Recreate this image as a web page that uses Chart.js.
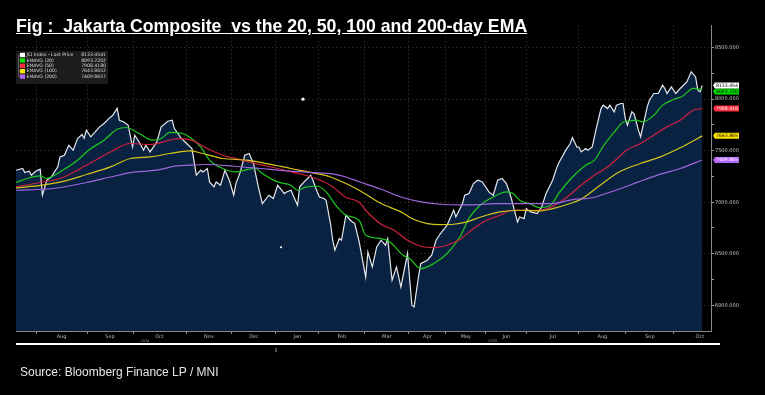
<!DOCTYPE html>
<html>
<head>
<meta charset="utf-8">
<script src="https://cdn.jsdelivr.net/npm/chart.js@4.4.1/dist/chart.umd.min.js"></script>
<style>
    body { margin: 0; background: #000; width: 765px; height: 395px; overflow: hidden; position: relative; }
    #marketChart { position: absolute; left: 0; top: 0; }
    #chartTitle {
        position: absolute; left: 16px; top: 16px; line-height: 17px;
        font: bold 17.7px "Liberation Sans", Arial, sans-serif; color: #fff;
        text-decoration: underline; white-space: pre;
    }
    #chartSource {
        position: absolute; left: 20px; top: 365px; line-height: 13px;
        font: 12px "Liberation Sans", Arial, sans-serif; color: #e6e6e6;
    }
</style>
</head>
<body>
<canvas id="marketChart" width="765" height="395"></canvas>
<div id="chartTitle">Fig :  Jakarta Composite  vs the 20, 50, 100 and 200-day EMA</div>
<div id="chartSource">Source: Bloomberg Finance LP / MNI</div>
<script>
// x values are trading-day counts from the first point (mid July 2024)
const priceDays = [0, 3, 4, 6, 7, 9, 11, 12, 14, 16, 19, 20, 22, 24, 26, 28, 30, 31, 32, 34, 36, 38, 40, 42, 44, 46, 47, 49, 51, 53, 54, 56, 58, 59, 61, 64, 66, 69, 71, 72, 75, 77, 80, 82, 84, 85, 87, 88, 90, 91, 93, 95, 97, 99, 100, 102, 104, 106, 108, 110, 112, 115, 117, 119, 122, 123, 125, 126, 128, 129, 131, 134, 135, 137, 138, 140, 141, 143, 144, 145, 147, 148, 150, 152, 154, 156, 159, 160, 162, 164, 166, 168, 169, 171, 173, 175, 178, 180, 181, 183, 184, 187, 189, 191, 193, 196, 199, 200, 203, 204, 206, 208, 210, 212, 215, 217, 219, 221, 223, 225, 228, 229, 231, 232, 234, 237, 239, 241, 244, 246, 247, 250, 252, 253, 255, 256, 257, 259, 260, 262, 264, 266, 267, 269, 270, 272, 273, 275, 276, 277, 278, 280, 281, 283, 284, 285, 287, 288, 290, 292, 294, 295, 296, 298, 300, 302, 305, 307, 309, 310, 311, 312];
const priceVals = [7310, 7327, 7288, 7301, 7262, 7301, 7320, 7068, 7213, 7245, 7343, 7440, 7456, 7553, 7505, 7618, 7657, 7621, 7699, 7634, 7682, 7731, 7764, 7806, 7844, 7910, 7796, 7779, 7747, 7537, 7650, 7585, 7505, 7553, 7488, 7585, 7731, 7786, 7796, 7715, 7625, 7582, 7521, 7262, 7311, 7294, 7327, 7197, 7148, 7197, 7165, 7311, 7213, 7068, 7181, 7294, 7456, 7473, 7375, 7165, 6987, 7068, 7036, 7165, 7084, 7100, 7116, 7068, 6971, 7150, 7197, 7262, 7213, 7097, 7051, 7036, 7019, 6793, 6631, 6534, 6647, 6631, 6874, 6825, 6793, 6620, 6274, 6517, 6372, 6566, 6631, 6582, 6647, 6243, 6372, 6177, 6502, 6000, 5983, 6274, 6404, 6437, 6485, 6631, 6696, 6776, 6922, 6857, 6987, 7068, 7084, 7181, 7213, 7197, 7100, 7068, 7213, 7230, 7181, 7051, 6809, 6857, 6841, 6938, 6906, 6890, 6954, 7084, 7213, 7343, 7391, 7505, 7570, 7628, 7537, 7531, 7488, 7521, 7505, 7537, 7731, 7909, 7942, 7909, 7942, 7877, 7942, 7958, 7958, 7813, 7747, 7877, 7861, 7699, 7634, 7731, 7925, 7990, 8055, 8055, 8136, 8104, 8055, 8119, 8055, 8104, 8168, 8265, 8216, 8087, 8071, 8133];

const ema20Days = [0, 5, 11, 14, 16, 20, 28, 33, 40, 46, 50, 56, 62, 66, 70, 75, 79, 84, 88, 94, 100, 105, 109, 112, 119, 125, 128, 132, 137, 141, 146, 150, 156, 159, 166, 170, 176, 179, 184, 190, 196, 202, 206, 211, 217, 223, 226, 229, 234, 238, 243, 247, 253, 259, 263, 267, 272, 276, 279, 282, 285, 290, 294, 299, 303, 308, 312];
const ema20Vals = [7191, 7230, 7255, 7230, 7245, 7294, 7408, 7505, 7602, 7709, 7725, 7667, 7602, 7618, 7677, 7670, 7631, 7537, 7408, 7327, 7294, 7317, 7327, 7278, 7197, 7165, 7116, 7148, 7155, 7100, 6954, 6874, 6825, 6679, 6647, 6614, 6485, 6453, 6356, 6405, 6502, 6670, 6845, 6971, 7051, 7100, 7084, 7019, 6980, 6948, 6971, 7092, 7245, 7359, 7408, 7544, 7680, 7777, 7789, 7796, 7779, 7844, 7942, 7997, 8029, 8104, 8093];

const ema50Days = [0, 11, 20, 32, 43, 52, 61, 67, 73, 79, 87, 94, 102, 109, 119, 126, 135, 143, 150, 156, 159, 166, 172, 178, 184, 190, 196, 202, 208, 214, 220, 226, 232, 238, 244, 250, 256, 262, 270, 278, 284, 290, 296, 302, 308, 312];
const ema50Vals = [7148, 7191, 7230, 7359, 7488, 7570, 7560, 7585, 7618, 7607, 7521, 7456, 7414, 7375, 7327, 7290, 7240, 7165, 7048, 7000, 6922, 6786, 6728, 6631, 6573, 6560, 6582, 6641, 6744, 6825, 6874, 6922, 6922, 6922, 6960, 7040, 7150, 7247, 7359, 7511, 7570, 7651, 7731, 7796, 7893, 7908];

const ema100Days = [0, 12, 22, 32, 43, 52, 61, 70, 79, 84, 94, 105, 114, 125, 135, 143, 150, 156, 166, 175, 181, 187, 193, 199, 205, 211, 220, 229, 238, 244, 252, 257, 265, 274, 283, 293, 302, 312];
const ema100Vals = [7139, 7165, 7204, 7269, 7343, 7424, 7440, 7473, 7498, 7478, 7424, 7408, 7375, 7327, 7284, 7245, 7181, 7116, 6987, 6906, 6832, 6793, 6783, 6786, 6809, 6854, 6906, 6922, 6915, 6938, 6987, 7030, 7155, 7291, 7369, 7440, 7528, 7644];

const ema200Days = [0, 17, 32, 43, 52, 64, 73, 79, 87, 99, 111, 123, 135, 143, 150, 156, 166, 175, 184, 193, 202, 211, 217, 232, 244, 253, 262, 270, 275, 283, 293, 302, 312];
const ema200Vals = [7116, 7133, 7191, 7245, 7288, 7311, 7352, 7359, 7366, 7349, 7327, 7304, 7288, 7278, 7245, 7199, 7126, 7051, 7003, 6980, 6975, 6977, 6987, 6987, 6987, 7026, 7043, 7097, 7133, 7197, 7272, 7327, 7410];

// stray white dots in the original screenshot
const dotDays = [130.5, 120.5];
const dotVals = [8000, 6563];

// month boundaries (trading-day counts) and their names
const monthStarts = [9.1, 32.3, 53.2, 77.3, 98.2, 118.2, 137.7, 158.6, 178.6, 195.5, 213.6, 232.3, 255.9, 277.3, 299.1, 322.7];
const monthNames = ["Aug", "Sep", "Oct", "Nov", "Dec", "Jan", "Feb", "Mar", "Apr", "May", "Jun", "Jul", "Aug", "Sep", "Oct"];
const yearMarks = [{ day: 58.6, text: "2024" }, { day: 216.8, text: "2025" }];

const yTicks = [6000, 6250, 6500, 6750, 7000, 7250, 7500, 7750, 8000, 8250, 8500];

const seriesNames = ["JCI Index - Last Price", "EMAVG (20)", "EMAVG (50)", "EMAVG (100)", "EMAVG (200)"];
const lastValues = [8133.4541, 8093.2202, 7908.4180, 7643.8652, 7409.8657];
const lineColors = ["#e4e9ef", "#1ec81e", "#d0213f", "#d6c61c", "#a066dd"];
const keyColors = ["#ffffff", "#00e000", "#ff2a3a", "#ffe600", "#b266ff"];
const tagText = ["#000", "#000", "#fff", "#000", "#fff"];

const X_MAX = 316;
const GRID = "rgba(105, 105, 105, 0.4)";

function toPoints(days, vals) {
    return days.map((d, i) => ({ x: d, y: vals[i] }));
}

function buildXTicks() {
    const ticks = [];
    for (let i = 0; i < monthNames.length; i++) {
        ticks.push({ value: monthStarts[i] });
        const mid = (monthStarts[i] + monthStarts[i + 1]) / 2;
        if (mid <= X_MAX) ticks.push({ value: mid, name: monthNames[i] });
    }
    return ticks.filter(t => t.value <= X_MAX);
}

const overlayPlugin = {
    id: "overlay",
    afterDraw(chart) {
        const ctx = chart.ctx;
        const xs = chart.scales.x;
        const ys = chart.scales.y;
        const area = chart.chartArea;
        ctx.save();

        // legend box, top left
        const bx = 16, by = 51, bw = 92, bh = 33;
        ctx.fillStyle = "#1c1c1c";
        ctx.fillRect(bx, by, bw, bh);
        ctx.strokeStyle = "#777";
        ctx.lineWidth = 0.7;
        ctx.beginPath();
        ctx.moveTo(bx + 2.5, by + 4);
        ctx.lineTo(bx + 2.5, by + 4 + 4 * 5.4);
        ctx.stroke();
        ctx.font = "4.6px 'DejaVu Sans'";
        ctx.textBaseline = "middle";
        seriesNames.forEach((name, i) => {
            const ry = by + 4 + i * 5.4;
            ctx.strokeStyle = "#777";
            ctx.beginPath();
            ctx.moveTo(bx + 2.5, ry);
            ctx.lineTo(bx + 4, ry);
            ctx.stroke();
            ctx.fillStyle = keyColors[i];
            ctx.fillRect(bx + 4, ry - 2.2, 5, 4.4);
            ctx.fillStyle = "#d8d8d8";
            ctx.textAlign = "left";
            ctx.fillText(name, bx + 10.5, ry);
            ctx.textAlign = "right";
            ctx.fillText(lastValues[i].toFixed(4), bx + bw - 2, ry);
        });

        // last value tags on the right axis (drawn bottom-up so the price tag is on top)
        ctx.font = "4.6px 'DejaVu Sans'";
        ctx.textAlign = "left";
        for (let i = lastValues.length - 1; i >= 0; i--) {
            let ty = ys.getPixelForValue(lastValues[i]);
            if (i === 1) ty += 2;
            const tx = area.right + 2;
            ctx.fillStyle = keyColors[i];
            ctx.beginPath();
            ctx.moveTo(tx, ty);
            ctx.lineTo(tx + 2, ty - 3);
            ctx.lineTo(tx + 26, ty - 3);
            ctx.lineTo(tx + 26, ty + 3);
            ctx.lineTo(tx + 2, ty + 3);
            ctx.closePath();
            ctx.fill();
            ctx.fillStyle = tagText[i];
            ctx.fillText((Math.floor(lastValues[i] * 1000) / 1000).toFixed(3), tx + 3, ty + 0.3);
        }

        // year markers under the month labels
        ctx.fillStyle = "#9a9a9a";
        ctx.font = "3.5px 'DejaVu Sans'";
        ctx.textAlign = "center";
        yearMarks.forEach(m => ctx.fillText(m.text, xs.getPixelForValue(m.day), area.bottom + 10));
        ctx.strokeStyle = "#bbb";
        ctx.lineWidth = 0.8;
        const janX = xs.getPixelForValue(monthStarts[5]);
        ctx.beginPath();
        ctx.moveTo(janX, area.bottom + 17);
        ctx.lineTo(janX, area.bottom + 21);
        ctx.stroke();

        // white rule under the chart
        ctx.strokeStyle = "#fff";
        ctx.lineWidth = 2;
        ctx.beginPath();
        ctx.moveTo(16, area.bottom + 13);
        ctx.lineTo(720, area.bottom + 13);
        ctx.stroke();
        ctx.restore();
    }
};

function emaSet(label, days, vals, color) {
    return {
        label: label,
        data: toPoints(days, vals),
        borderColor: color,
        borderWidth: 1.2,
        pointRadius: 0,
        cubicInterpolationMode: "monotone",
        fill: false
    };
}

function drawChart() {
    const ctx = document.getElementById("marketChart").getContext("2d");
    new Chart(ctx, {
        type: "line",
        data: {
            datasets: [
                {
                    type: "scatter",
                    label: "dots",
                    data: toPoints(dotDays, dotVals),
                    pointRadius: [1.6, 1.1],
                    pointBackgroundColor: "#fff",
                    pointBorderWidth: 0
                },
                {
                    label: seriesNames[0],
                    data: toPoints(priceDays, priceVals),
                    borderColor: lineColors[0],
                    borderWidth: 1.2,
                    backgroundColor: "rgba(12, 42, 80, 0.82)",
                    fill: "start",
                    pointRadius: 0,
                    tension: 0,
                    order: 5
                },
                emaSet(seriesNames[4], ema200Days, ema200Vals, lineColors[4]),
                emaSet(seriesNames[3], ema100Days, ema100Vals, lineColors[3]),
                emaSet(seriesNames[2], ema50Days, ema50Vals, lineColors[2]),
                emaSet(seriesNames[1], ema20Days, ema20Vals, lineColors[1])
            ]
        },
        options: {
            responsive: false,
            animation: false,
            layout: { padding: { left: 16, top: 25, right: 0, bottom: 0 } },
            plugins: {
                legend: { display: false },
                tooltip: { enabled: false }
            },
            scales: {
                x: {
                    type: "linear",
                    min: 0,
                    max: X_MAX,
                    afterBuildTicks: (scale) => { scale.ticks = buildXTicks(); },
                    afterFit: (scale) => { scale.height = 64; },
                    border: { display: true, color: "#8a8a8a", width: 1, dash: [1.5, 2.5] },
                    grid: {
                        color: (c) => (c.tick && c.tick.name ? "transparent" : GRID),
                        tickColor: (c) => (c.tick && c.tick.name ? "transparent" : "#8a8a8a"),
                        tickLength: 3,
                        lineWidth: 1
                    },
                    ticks: {
                        autoSkip: false,
                        maxRotation: 0,
                        padding: 0,
                        color: "#b8b8b8",
                        font: { family: "DejaVu Sans", size: 5 },
                        callback: (value, index, ticks) => ticks[index].name || ""
                    }
                },
                y: {
                    position: "right",
                    min: 5750,
                    max: 8720,
                    afterBuildTicks: (scale) => { scale.ticks = yTicks.map(v => ({ value: v })); },
                    afterFit: (scale) => { scale.width = 54; },
                    border: { display: true, color: "#8a8a8a", width: 1, dash: [1.5, 2.5] },
                    grid: {
                        color: (c) => (c.tick && c.tick.value % 500 === 0 ? GRID : "transparent"),
                        tickColor: "#9a9a9a",
                        tickLength: 3,
                        lineWidth: 1
                    },
                    ticks: {
                        padding: 1,
                        color: "#c8c8c8",
                        font: { family: "DejaVu Sans", size: 5 },
                        callback: (value) => (value % 500 === 0 ? value.toFixed(3) : "")
                    }
                }
            }
        },
        plugins: [overlayPlugin]
    });
}

document.addEventListener("DOMContentLoaded", drawChart);
</script>
</body>
</html>
